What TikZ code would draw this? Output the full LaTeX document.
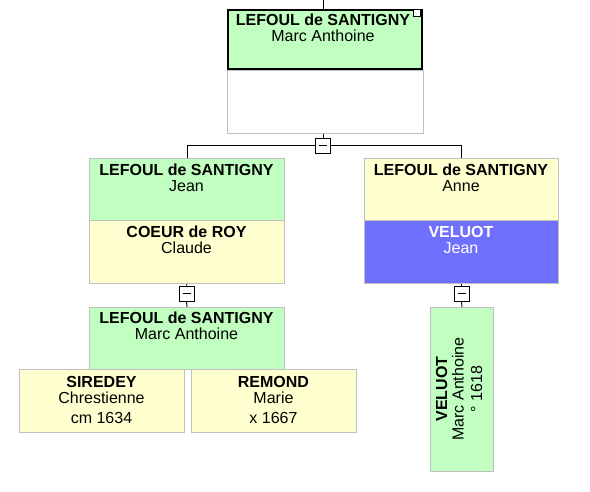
\documentclass[tikz,border=0pt]{standalone}
\usepackage{fontspec}
\setmainfont{Liberation Sans}
\definecolor{pgreen}{RGB}{192,255,192}
\definecolor{pyellow}{RGB}{255,255,208}
\definecolor{pblue}{RGB}{112,112,255}
\definecolor{bgray}{RGB}{192,192,192}
\tikzset{
  box/.style={draw=bgray, line width=1pt, inner sep=0pt, anchor=north west},
  txt/.style={align=center, inner sep=0pt, anchor=base, font=\fontsize{16}{16.5}\selectfont},
  minusbox/.style={draw=black, fill=white, line width=0.9pt, minimum size=15pt, inner sep=0pt,
    path picture={\draw[line width=0.9pt] ([xshift=-4pt]path picture bounding box.center) -- ([xshift=4pt]path picture bounding box.center);}},
  conn/.style={draw=black, line width=0.9pt},
}
\begin{document}
\begin{tikzpicture}[x=1pt,y=-1pt]
\useasboundingbox[fill=white] (0,0) rectangle (590,492);
% boxes
\node[box, draw=black, line width=2pt, fill=pgreen, minimum width=194pt, minimum height=59pt] (root) at (227,9) {};
\node[box, fill=white, minimum width=196pt, minimum height=63pt] (blank) at (227,70) {};
\node[box, fill=pgreen, minimum width=195pt, minimum height=62pt] (jean) at (89,158) {};
\node[box, fill=pyellow, minimum width=195pt, minimum height=63pt] (claude) at (89,220) {};
\node[box, fill=pyellow, minimum width=194pt, minimum height=62pt] (anne) at (364,158) {};
\node[box, fill=pblue, minimum width=194pt, minimum height=63pt] (vjean) at (364,220) {};
\node[box, fill=pgreen, minimum width=195pt, minimum height=62pt] (marc) at (89,307) {};
\node[box, fill=pyellow, minimum width=165pt, minimum height=63pt] (siredey) at (19,369) {};
\node[box, fill=pyellow, minimum width=165pt, minimum height=63pt] (remond) at (191,369) {};
\node[box, fill=pgreen, minimum width=63pt, minimum height=164pt] (vmarc) at (430,307) {};
% marker
\node[draw=black, fill=white, line width=1pt, minimum size=7pt, inner sep=0pt] (mark) at (417,13) {};
% minus boxes
\node[minusbox] (m1) at (323,145.5) {};
\node[minusbox] (m2) at (186.5,293.5) {};
\node[minusbox] (m3) at (461.5,293.5) {};
\coordinate (topend) at (323,0);
% connectors
\draw[conn] (topend) -- (root.north -| topend);
\draw[conn] (blank.south -| m1) -- (m1.north);
\draw[conn] (m1.west) -| (jean.north);
\draw[conn] (m1.east) -| (anne.north);
\draw[conn] (claude.south) -- (m2.north);
\draw[conn] (m2.south) -- (marc.north);
\draw[conn] (vjean.south -| m3) -- (m3.north);
\draw[conn] (m3.south) -- (vmarc.north);
% texts (anchor base = baseline of last line)
\node[txt] (troot) at (323,42) {\textbf{LEFOUL de SANTIGNY}\\Marc Anthoine};
\node[txt] (tjean) at (186.5,192) {\textbf{LEFOUL de SANTIGNY}\\Jean};
\node[txt] (tclaude) at (186.5,254) {\textbf{COEUR de ROY}\\Claude};
\node[txt] (tanne) at (461,192) {\textbf{LEFOUL de SANTIGNY}\\Anne};
\node[txt, text=white] (tvjean) at (461,254) {\textbf{VELUOT}\\Jean};
\node[txt] (tmarc) at (186.5,340) {\textbf{LEFOUL de SANTIGNY}\\Marc Anthoine};
\node[txt] (tsiredey) at (101.5,423) {\textbf{SIREDEY}\\Chrestienne\\[3pt]cm 1634};
\node[txt] (tremond) at (273.5,423) {\textbf{REMOND}\\Marie\\[3pt]x 1667};
\node[txt, rotate=90] (tvmarc) at (482,389) {\textbf{VELUOT}\\Marc Anthoine\\[2pt]° 1618};
\end{tikzpicture}
\end{document}
